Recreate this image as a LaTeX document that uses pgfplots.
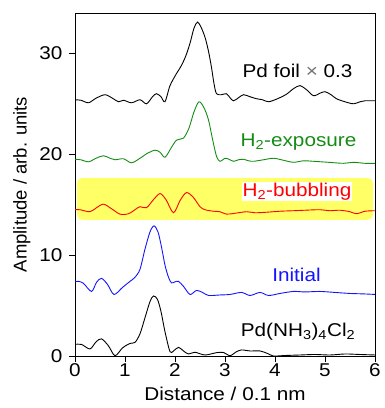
\documentclass[border=0pt]{standalone}
\usepackage{pgfplots}
\pgfplotsset{compat=1.18}
\usepackage{fontspec}
\setmainfont{Liberation Sans}[FakeStretch=1.12]
\newfontfamily\ylabfont{Liberation Sans}
\definecolor{hlyellow}{RGB}{255,255,102}
\definecolor{cgreen}{RGB}{20,140,20}
\definecolor{cblue}{RGB}{20,20,255}
\definecolor{cred}{RGB}{255,0,0}
\begin{document}
\begin{tikzpicture}
\begin{axis}[
  scale only axis,
  width=300pt, height=343pt,
  xmin=0, xmax=6, ymin=0, ymax=34,
  xtick={0,1,2,3,4,5,6},
  ytick={0,10,20,30},
  tick align=outside,
  xtick pos=bottom, ytick pos=left,
  major tick length=6pt,
  axis line style={line width=0.8pt},
  tick style={line width=0.8pt, black},
  font=\fontsize{18.5}{22}\selectfont,
  /pgf/number format/assume math mode=true,
  xlabel={Distance / 0.1 nm},
  ylabel={\ylabfont Amplitude / arb. units},
  xlabel style={yshift=-4pt},
  xticklabel style={yshift=2pt},
  ylabel style={yshift=2pt},
  yticklabel style={xshift=-3pt},
  every tick label/.append style={font=\fontsize{18.5}{22}\selectfont},
  clip=true,
]
\fill[hlyellow, rounded corners=5pt] (axis cs:0.04,13.5) rectangle (axis cs:5.96,17.65);

% Pd foil x 0.3
\addplot[black, line width=0.9pt, smooth, tension=0.5] coordinates {
(0,25.4)(0.12,25.35)(0.27,25.1)(0.42,25.55)(0.6,25.9)(0.75,25.55)(0.87,25.2)(0.97,25.35)(1.13,25.1)(1.3,25.4)(1.43,25.0)(1.55,25.7)(1.63,26.0)(1.72,25.7)(1.8,25.2)(1.9,26.8)(2.03,28.0)(2.13,28.8)(2.22,29.8)(2.3,31.0)(2.38,32.5)(2.45,33.1)(2.52,32.6)(2.6,31.6)(2.67,30.2)(2.73,28.6)(2.78,27.0)(2.83,26.0)(2.93,25.9)(3.03,26.0)(3.1,25.6)(3.17,25.3)(3.27,25.6)(3.37,25.9)(3.5,25.7)(3.63,25.5)(3.75,25.4)(3.87,25.2)(4.05,25.5)(4.23,25.95)(4.37,26.5)(4.5,26.8)(4.63,26.4)(4.77,25.8)(4.9,26.05)(5.0,26.2)(5.12,25.9)(5.23,25.5)(5.4,25.2)(5.57,25.0)(5.7,25.2)(5.8,25.3)(6.0,25.3)
};
% H2-exposure
\addplot[cgreen, line width=0.9pt, smooth, tension=0.5] coordinates {
(0,19.5)(0.12,19.45)(0.27,19.25)(0.42,19.6)(0.57,19.85)(0.7,19.6)(0.8,19.45)(0.97,19.55)(1.13,19.15)(1.3,19.6)(1.45,20.1)(1.6,20.4)(1.7,20.2)(1.8,19.7)(1.92,20.6)(2.03,21.4)(2.17,21.6)(2.28,22.6)(2.38,24.2)(2.48,25.2)(2.58,24.6)(2.67,23.4)(2.75,21.5)(2.83,19.8)(2.9,19.3)(3.0,19.6)(3.08,19.5)(3.17,19.3)(3.27,19.45)(3.37,19.5)(3.47,19.35)(3.57,19.3)(3.77,19.45)(3.97,19.6)(4.17,19.4)(4.37,19.2)(4.57,19.35)(4.77,19.3)(5.07,19.2)(5.37,19.1)(5.57,19.2)(5.8,19.1)(6.0,19.1)
};
% H2-bubbling
\addplot[cred, line width=0.9pt, smooth, tension=0.5] coordinates {
(0,14.5)(0.1,14.5)(0.3,14.3)(0.43,14.7)(0.57,15.05)(0.73,14.6)(0.9,14.06)(1.07,14.1)(1.2,14.5)(1.3,14.8)(1.43,14.7)(1.57,15.5)(1.7,16.1)(1.82,15.5)(1.97,14.2)(2.1,15.4)(2.23,16.2)(2.37,15.7)(2.5,14.8)(2.6,14.5)(2.77,14.35)(2.9,14.3)(3.03,14.06)(3.2,14.15)(3.43,14.3)(3.6,14.2)(3.83,14.25)(4.1,14.35)(4.37,14.4)(4.6,14.45)(4.9,14.5)(5.1,14.4)(5.3,14.45)(5.5,14.3)(5.63,14.1)(5.8,14.35)(6.0,14.4)
};
% Initial
\addplot[cblue, line width=0.9pt, smooth, tension=0.5] coordinates {
(0,7.35)(0.07,7.4)(0.17,7.2)(0.33,6.4)(0.43,7.3)(0.53,7.7)(0.65,7.1)(0.78,6.1)(0.95,6.8)(1.1,7.4)(1.2,7.8)(1.3,8.6)(1.4,10.6)(1.5,12.3)(1.58,12.9)(1.66,12.3)(1.73,10.8)(1.8,9.0)(1.87,7.8)(1.93,7.25)(2.0,7.35)(2.07,7.4)(2.17,6.9)(2.3,6.1)(2.43,6.5)(2.55,6.3)(2.67,6.0)(2.9,6.05)(3.1,6.1)(3.33,6.3)(3.5,6.0)(3.7,6.3)(3.87,6.0)(4.1,6.2)(4.37,6.4)(4.6,6.35)(4.9,6.4)(5.2,6.3)(5.5,6.2)(5.8,6.15)(6.0,6.1)
};
% Pd(NH3)4Cl2
\addplot[black, line width=0.9pt, smooth, tension=0.5] coordinates {
(0,1.15)(0.13,1.15)(0.3,0.7)(0.42,1.4)(0.53,1.7)(0.67,1.0)(0.8,0.03)(0.95,0.8)(1.1,1.25)(1.2,1.35)(1.3,2.2)(1.4,3.8)(1.5,5.4)(1.57,5.95)(1.65,5.6)(1.72,4.4)(1.8,2.4)(1.9,0.43)(1.97,0.5)(2.07,0.86)(2.17,0.5)(2.27,0.2)(2.4,0.37)(2.6,0.1)(2.83,0.33)(2.97,0.35)(3.1,0.03)(3.22,0.4)(3.33,0.6)(3.5,0.5)(3.7,0.5)(3.85,0.25)(3.97,0.0)(4.2,0.05)(4.5,0.1)(4.8,0.15)(5.1,0.1)(5.4,0.2)(5.7,0.15)(6.0,0.1)
};

\node[anchor=center] at (axis cs:4.45,28.3) {Pd foil \textcolor{black!55}{×} 0.3};
\node[anchor=center, text=cgreen] at (axis cs:4.47,21.2) {H\textsubscript{2}-exposure};
\node[anchor=center, text=cred, fill=white, inner sep=0.5pt] at (axis cs:4.44,16.3) {H\textsubscript{2}-bubbling};
\node[anchor=center, text=cblue] at (axis cs:4.43,8.0) {Initial};
\node[anchor=center] at (axis cs:4.46,2.4) {Pd(NH\textsubscript{3})\textsubscript{4}Cl\textsubscript{2}};
\end{axis}
\path ([yshift=13pt]current axis.north) ;
\path ([xshift=6pt]current axis.east) ;
\path ([xshift=-75pt]current axis.west) ;
\path ([yshift=-52pt]current axis.south) ;
\end{tikzpicture}
\end{document}
